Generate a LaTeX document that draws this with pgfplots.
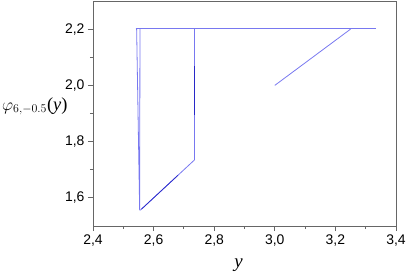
\documentclass[border=0pt]{standalone}
\usepackage{fontspec}
\setmainfont{Liberation Serif}
\newfontfamily\arialf{Liberation Sans}
\usepackage{pgfplots}
\pgfplotsset{compat=1.18}
\definecolor{lineblue}{RGB}{120,120,240}
\definecolor{darkblue}{RGB}{40,40,200}
\begin{document}
\begin{tikzpicture}
\begin{axis}[name=ax, scale only axis, width=303bp, height=225bp,
  xmin=2.4, xmax=3.4, ymin=1.5, ymax=2.3,
  xtick={2.4,2.6,2.8,3.0,3.2,3.4}, minor x tick num=1,
  ytick={1.6,1.8,2.0,2.2}, minor y tick num=1,
  tick align=outside, xtick pos=bottom, ytick pos=left,
  major tick length=5bp, minor tick length=3bp,
  axis line style={black!60, line width=0.9bp},
  every tick/.style={black!60, line width=0.9bp},
  ticklabel style={font=\arialf\fontsize{14}{16}\selectfont},
  /pgf/number format/use comma, /pgf/number format/fixed,
  /pgf/number format/fixed zerofill, /pgf/number format/precision=1,
  /pgf/number format/assume math mode=true,
]
\addplot[color=lineblue, line width=0.8bp] coordinates {(2.556,1.556) (2.735,1.735) (2.735,2.2)};
\addplot[color=darkblue, line width=0.7bp] coordinates {(2.56,1.56) (2.68,1.68)};
\addplot[color=darkblue, line width=0.9bp] coordinates {(2.735,1.894) (2.735,2.07)};
\addplot[color=lineblue, line width=0.8bp] coordinates {(3.0,2.0) (3.25,2.2)};
\addplot[color=lineblue, line width=0.8bp] coordinates {(2.544,2.2) (2.554,1.556) (2.555,2.2)};
\addplot[color=lineblue, line width=0.8bp] coordinates {(2.541,2.201) (3.333,2.201)};
\end{axis}
\node[anchor=base west, font=\fontsize{18.5}{22}\selectfont, inner sep=0pt]
  at ([xshift=-91bp, yshift=-109bp]ax.north west) {$\varphi_{6,-0.5}$(\textit{y})};
\node[anchor=base, font=\fontsize{19}{22}\selectfont, inner sep=0pt]
  at ([xshift=-6bp, yshift=-41.5bp]ax.south) {\textit{y}};
\pgfresetboundingbox
\path ([shift={(-93bp,-46bp)}]ax.south west) rectangle ([shift={(11bp,1bp)}]ax.north east);
\end{tikzpicture}
\end{document}
